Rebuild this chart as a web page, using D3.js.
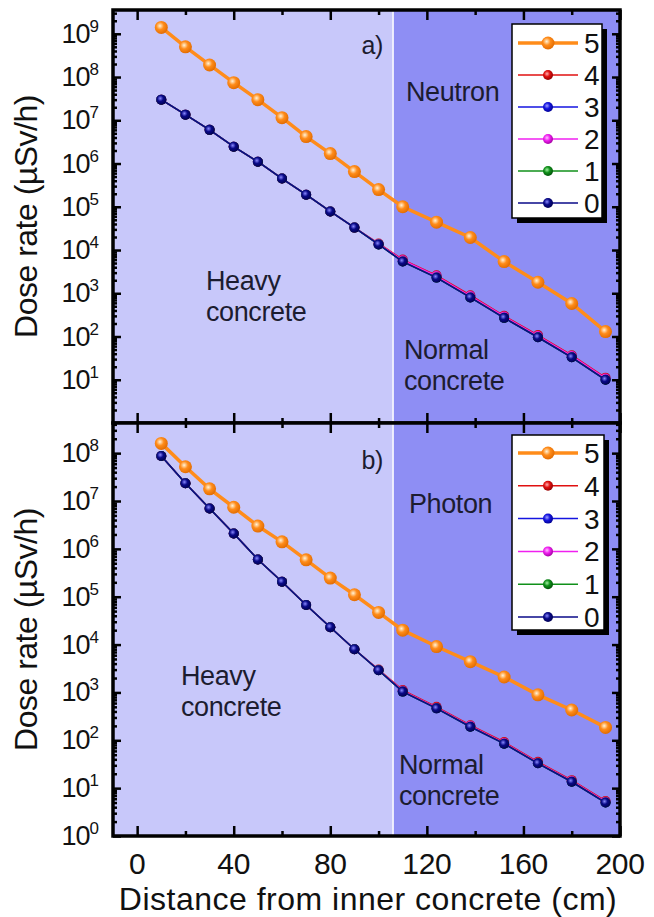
<!DOCTYPE html>
<html>
<head>
<meta charset="utf-8">
<script src="https://cdn.jsdelivr.net/npm/d3@7"></script>
<style>
  body { margin: 0; background: #fff; }
  svg { display: block; font-family: "Liberation Sans", Arial, sans-serif; }
</style>
</head>
<body>
<script>
// distances of the detector points (cm from inner concrete surface)
var distance = [10, 20, 30, 40, 50, 60, 70, 80, 90, 100, 110, 124, 138, 152, 166, 180, 194];
var heavyThickness = 106; // heavy concrete ends here, normal concrete after

var seriesNames = ["5", "4", "3", "2", "1", "0"];

// neutron dose rate (uSv/h), panel a)
var neutron5 = [1.4e9, 5e8, 1.9e8, 7.4e7, 3e7, 1.15e7, 4.2e6, 1.7e6, 6.5e5, 2.5e5, 1.0e5, 4.4e4, 1.95e4, 5.4e3, 1.8e3, 5.8e2, 1.3e2];
var neutron4 = [3e7, 1.35e7, 6e6, 2.45e6, 1.1e6, 4.5e5, 1.9e5, 7.8e4, 3.3e4, 1.42e4, 6.0e3, 2.6e3, 9.0e2, 3.0e2, 108, 37, 11.2];
var neutron3 = [3e7, 1.35e7, 6e6, 2.45e6, 1.1e6, 4.5e5, 1.9e5, 7.8e4, 3.3e4, 1.35e4, 5.4e3, 2.3e3, 8.0e2, 2.7e2, 96, 33, 10];
var neutron2 = [3e7, 1.35e7, 6e6, 2.45e6, 1.1e6, 4.5e5, 1.9e5, 7.8e4, 3.3e4, 1.38e4, 5.8e3, 2.5e3, 8.6e2, 2.9e2, 103, 35.5, 10.7];
var neutron1 = [3e7, 1.35e7, 6e6, 2.45e6, 1.1e6, 4.5e5, 1.9e5, 7.8e4, 3.3e4, 1.35e4, 5.4e3, 2.3e3, 8.0e2, 2.7e2, 96, 33, 10];
var neutron0 = [3e7, 1.35e7, 6e6, 2.45e6, 1.1e6, 4.5e5, 1.9e5, 7.8e4, 3.3e4, 1.35e4, 5.4e3, 2.3e3, 8.0e2, 2.7e2, 96, 33, 10];

// photon dose rate (uSv/h), panel b)
var photon5 = [1.6e8, 5.2e7, 1.8e7, 7.4e6, 3.0e6, 1.4e6, 5.9e5, 2.45e5, 1.1e5, 4.7e4, 2.0e4, 9.1e3, 4.4e3, 2.1e3, 8.9e2, 4.3e2, 1.86e2];
var photon4 = [8.7e7, 2.35e7, 7.0e6, 2.1e6, 6.0e5, 2.05e5, 6.7e4, 2.3e4, 8.0e3, 3.0e3, 1.12e3, 5.0e2, 2.07e2, 92, 35.5, 14.7, 5.4];
var photon3 = [8.7e7, 2.35e7, 7.0e6, 2.1e6, 6.0e5, 2.05e5, 6.7e4, 2.3e4, 8.0e3, 2.9e3, 1.04e3, 4.65e2, 1.92e2, 85, 33, 13.6, 5.0];
var photon2 = [8.7e7, 2.35e7, 7.0e6, 2.1e6, 6.0e5, 2.05e5, 6.7e4, 2.3e4, 8.0e3, 2.95e3, 1.08e3, 4.8e2, 2.0e2, 88, 34, 14.1, 5.2];
var photon1 = [8.7e7, 2.35e7, 7.0e6, 2.1e6, 6.0e5, 2.05e5, 6.7e4, 2.3e4, 8.0e3, 2.9e3, 1.04e3, 4.65e2, 1.92e2, 85, 33, 13.6, 5.0];
var photon0 = [8.7e7, 2.35e7, 7.0e6, 2.1e6, 6.0e5, 2.05e5, 6.7e4, 2.3e4, 8.0e3, 2.9e3, 1.04e3, 4.65e2, 1.92e2, 85, 33, 13.6, 5.0];

var xMajorTicks = [0, 40, 80, 120, 160, 200];
var xMinorTicks = [20, 60, 100, 140, 180];
var yTopExponents = [1, 2, 3, 4, 5, 6, 7, 8, 9];
var yBottomExponents = [0, 1, 2, 3, 4, 5, 6, 7, 8];

var colors = { "5": "#ff8c1a", "4": "#e01010", "3": "#1515e0", "2": "#f020f0", "1": "#10901a", "0": "#0a0a88" };
var darkColors = { "5": "#e06a00", "4": "#900000", "3": "#000090", "2": "#a000a0", "1": "#005008", "0": "#000050" };
var lightColors = { "5": "#fff3d8", "4": "#ffb0b0", "3": "#a0a0ff", "2": "#ffc0ff", "1": "#a0f0a0", "0": "#8888ff" };

var svg = d3.select("body").append("svg")
    .attr("width", 654)
    .attr("height", 917);

var defs = svg.append("defs");
seriesNames.forEach(function(s) {
  var g = defs.append("radialGradient").attr("id", "ball" + s)
      .attr("cx", "40%").attr("cy", "38%").attr("r", "65%");
  g.append("stop").attr("offset", "0%").attr("stop-color", lightColors[s]);
  g.append("stop").attr("offset", "45%").attr("stop-color", colors[s]);
  g.append("stop").attr("offset", "100%").attr("stop-color", darkColors[s]);
});

var x = d3.scaleLinear().domain([-10, 200]).range([113, 620]);

function drawPanel(p) {
  var y = d3.scaleLog().domain(p.yDomain).range(p.yRange);
  var top = p.yRange[1], bottom = p.yRange[0];
  var g = svg.append("g");

  // concrete regions
  g.append("rect")
      .attr("x", x(-10)).attr("y", top)
      .attr("width", x(heavyThickness) - x(-10)).attr("height", bottom - top)
      .attr("fill", "#c8c8fa");
  g.append("rect")
      .attr("x", x(heavyThickness)).attr("y", top)
      .attr("width", x(200) - x(heavyThickness)).attr("height", bottom - top)
      .attr("fill", "#8e8ef4");
  g.append("line")
      .attr("x1", x(heavyThickness)).attr("x2", x(heavyThickness))
      .attr("y1", top).attr("y2", bottom)
      .attr("stroke", "#fff").attr("stroke-width", 1.5);

  // annotations
  p.notes.forEach(function(n) {
    g.append("text")
        .attr("x", n.x).attr("y", n.y)
        .attr("text-anchor", n.anchor || "start")
        .attr("font-size", n.size || 27)
        .attr("letter-spacing", -0.4)
        .attr("fill", "#1c1c30")
        .text(n.text);
  });

  // data
  var line = d3.line()
      .x(function(d) { return x(d[0]); })
      .y(function(d) { return y(d[1]); });
  var order = ["5", "4", "3", "2", "1", "0"];
  order.forEach(function(s) {
    var pts = distance.map(function(d, i) { return [d, p.data[s][i]]; });
    g.append("path")
        .datum(pts)
        .attr("d", line)
        .attr("fill", "none")
        .attr("stroke", colors[s])
        .attr("stroke-width", s === "5" ? 3.5 : 1.5);
    g.selectAll(null).data(pts).enter().append("circle")
        .attr("cx", function(d) { return x(d[0]); })
        .attr("cy", function(d) { return y(d[1]); })
        .attr("r", s === "5" ? 6.5 : 5)
        .attr("fill", "url(#ball" + s + ")");
  });

  // ticks (inward) on all four sides
  var minorY = [];
  for (var e = Math.floor(Math.log10(p.yDomain[0])); e < Math.log10(p.yDomain[1]); e++) {
    for (var k = 2; k <= 9; k++) {
      var v = k * Math.pow(10, e);
      if (v > p.yDomain[0] && v < p.yDomain[1]) minorY.push(v);
    }
  }
  var majorY = p.exponents.map(function(e) { return Math.pow(10, e); });

  g.append("g").attr("transform", "translate(" + x(-10) + ",0)")
      .call(d3.axisLeft(y).tickValues(majorY).tickSize(-8).tickFormat(""));
  g.append("g").attr("transform", "translate(" + x(-10) + ",0)")
      .call(d3.axisLeft(y).tickValues(minorY).tickSize(-4).tickFormat(""));
  g.append("g").attr("transform", "translate(" + x(200) + ",0)")
      .call(d3.axisRight(y).tickValues(majorY).tickSize(-8).tickFormat(""));
  g.append("g").attr("transform", "translate(" + x(200) + ",0)")
      .call(d3.axisRight(y).tickValues(minorY).tickSize(-4).tickFormat(""));
  g.append("g").attr("transform", "translate(0," + bottom + ")")
      .call(d3.axisBottom(x).tickValues(xMajorTicks).tickSize(-10).tickFormat(""));
  g.append("g").attr("transform", "translate(0," + bottom + ")")
      .call(d3.axisBottom(x).tickValues(xMinorTicks).tickSize(-5).tickFormat(""));
  g.append("g").attr("transform", "translate(0," + top + ")")
      .call(d3.axisTop(x).tickValues(xMajorTicks).tickSize(-10).tickFormat(""));
  g.append("g").attr("transform", "translate(0," + top + ")")
      .call(d3.axisTop(x).tickValues(xMinorTicks).tickSize(-5).tickFormat(""));
  g.selectAll(".domain").remove();
  g.selectAll(".tick line").attr("stroke", "#000").attr("stroke-width", 2.5);

  // frame
  g.append("rect")
      .attr("x", x(-10)).attr("y", top)
      .attr("width", x(200) - x(-10)).attr("height", bottom - top)
      .attr("fill", "none").attr("stroke", "#000").attr("stroke-width", 3.5);

  // y tick labels 10^n
  p.exponents.forEach(function(e) {
    var t = g.append("text")
        .attr("x", 98).attr("y", y(Math.pow(10, e)) + 9)
        .attr("text-anchor", "end")
        .attr("font-size", 27)
        .attr("letter-spacing", -1)
        .attr("fill", "#111");
    t.append("tspan").text("10");
    t.append("tspan").attr("font-size", 17).attr("dy", -11).text(e);
  });

  // y axis title
  g.append("text")
      .attr("transform", "translate(37," + (top + bottom) / 2 + ") rotate(-90)")
      .attr("text-anchor", "middle")
      .attr("font-size", 32)
      .attr("letter-spacing", -0.5)
      .attr("fill", "#111")
      .text("Dose rate (\u00b5Sv/h)");

  // legend
  var L = p.legend;
  g.append("rect")
      .attr("x", L.x + 5).attr("y", L.y + 5)
      .attr("width", L.w).attr("height", L.h)
      .attr("fill", "#000");
  g.append("rect")
      .attr("x", L.x).attr("y", L.y)
      .attr("width", L.w).attr("height", L.h)
      .attr("fill", "#fff").attr("stroke", "#000").attr("stroke-width", 1.5);
  seriesNames.forEach(function(s, i) {
    var ry = L.y + L.first + i * L.step;
    g.append("line")
        .attr("x1", L.x + 6).attr("x2", L.x + 66)
        .attr("y1", ry).attr("y2", ry)
        .attr("stroke", colors[s]).attr("stroke-width", s === "5" ? 3.5 : 1.5);
    g.append("circle")
        .attr("cx", L.x + 36).attr("cy", ry)
        .attr("r", s === "5" ? 6.5 : 5)
        .attr("fill", "url(#ball" + s + ")");
    g.append("text")
        .attr("x", L.x + 72).attr("y", ry + 10)
        .attr("font-size", 28)
        .attr("fill", "#111")
        .text(s);
  });
}

drawPanel({
  yDomain: [1, Math.pow(10, 9.55)],
  yRange: [423, 10],
  exponents: yTopExponents,
  data: { "5": neutron5, "4": neutron4, "3": neutron3, "2": neutron2, "1": neutron1, "0": neutron0 },
  legend: { x: 512, y: 24, w: 90, h: 194, first: 19, step: 32 },
  notes: [
    { text: "a)", x: 383, y: 54, anchor: "end", size: 25 },
    { text: "Neutron", x: 406, y: 101 },
    { text: "Heavy", x: 206, y: 290 },
    { text: "concrete", x: 206, y: 321 },
    { text: "Normal", x: 404, y: 359 },
    { text: "concrete", x: 404, y: 390 }
  ]
});

drawPanel({
  yDomain: [1, Math.pow(10, 8.63)],
  yRange: [836, 423],
  exponents: yBottomExponents,
  data: { "5": photon5, "4": photon4, "3": photon3, "2": photon2, "1": photon1, "0": photon0 },
  legend: { x: 512, y: 435, w: 92, h: 195, first: 18, step: 32.8 },
  notes: [
    { text: "b)", x: 383, y: 469, anchor: "end", size: 25 },
    { text: "Photon", x: 409, y: 513 },
    { text: "Heavy", x: 181, y: 685 },
    { text: "concrete", x: 181, y: 716 },
    { text: "Normal", x: 399, y: 774 },
    { text: "concrete", x: 399, y: 805 }
  ]
});

// shared x axis labels
svg.selectAll(".xlab").data(xMajorTicks).enter().append("text")
    .attr("class", "xlab")
    .attr("x", function(d) { return x(d); })
    .attr("y", 873.5)
    .attr("text-anchor", "middle")
    .attr("font-size", 30)
    .attr("letter-spacing", -0.3)
    .attr("fill", "#111")
    .text(function(d) { return d; });

svg.append("text")
    .attr("x", 368).attr("y", 910)
    .attr("text-anchor", "middle")
    .attr("font-size", 32)
    .attr("letter-spacing", 0.5)
    .attr("fill", "#111")
    .text("Distance from inner concrete (cm)");
</script>
</body>
</html>
